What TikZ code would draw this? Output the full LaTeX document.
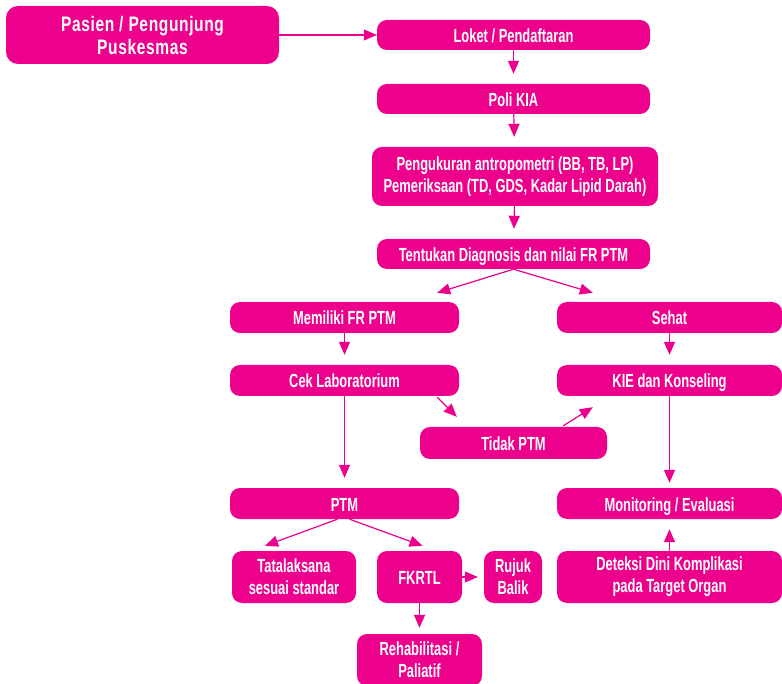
\documentclass[tikz,border=0pt]{standalone}
\usepackage{fontspec}
\setmainfont[FakeStretch=0.68,BoldFont={Liberation Sans Bold}]{Liberation Sans Bold}
\newfontfamily\titlefont[FakeStretch=0.74,LetterSpace=3]{Liberation Sans Bold}
\usetikzlibrary{arrows.meta,calc}
\definecolor{mag}{HTML}{EC008C}
\tikzset{
  box/.style={fill=mag, draw=none, rounded corners=10pt, text=white, align=center,
    inner sep=0pt, font=\fontsize{19}{22}\selectfont},
  one/.style={box, text height=15pt, text depth=0pt},
  arr/.style={draw=mag, line width=1.2pt, -{Triangle[length=13pt,width=11pt]}},
}
\begin{document}
\begin{tikzpicture}[x=1pt,y=-1pt]
\useasboundingbox (0,0) rectangle (782,684);
% boxes: at center, width, height
\node[box, rounded corners=12pt, minimum width=273pt, minimum height=58pt, font=\titlefont\fontsize{21}{23}\selectfont] (pas) at (142.5,35) {Pasien / Pengunjung\\Puskesmas};
\node[one, minimum width=273pt, minimum height=30pt] (lok) at (513.5,35) {Loket / Pendaftaran};
\node[one, minimum width=273pt, minimum height=30pt] (poli) at (513.5,99) {Poli KIA};
\node[box, minimum width=286pt, minimum height=59pt] (ukur) at (515,176.5) {Pengukuran antropometri (BB, TB, LP)\\Pemeriksaan (TD, GDS, Kadar Lipid Darah)};
\node[one, minimum width=273pt, minimum height=30pt] (ten) at (513.5,254) {Tentukan Diagnosis dan nilai FR PTM};
\node[one, minimum width=229pt, minimum height=31pt] (mem) at (344.5,317.5) {Memiliki FR PTM};
\node[one, minimum width=225pt, minimum height=31pt] (seh) at (669.5,317.5) {Sehat};
\node[one, minimum width=229pt, minimum height=31pt] (cek) at (344.5,380.5) {Cek Laboratorium};
\node[one, minimum width=225pt, minimum height=31pt] (kie) at (669.5,380.5) {KIE dan Konseling};
\node[one, minimum width=187pt, minimum height=32pt] (tid) at (513.5,443) {Tidak PTM};
\node[one, minimum width=229pt, minimum height=31pt] (ptm) at (344.5,503.5) {PTM};
\node[one, minimum width=225pt, minimum height=31pt] (mon) at (669.5,503.5) {Monitoring / Evaluasi};
\node[box, minimum width=124pt, minimum height=52pt] (tata) at (294,577) {Tatalaksana\\sesuai standar};
\node[one, minimum width=85pt, minimum height=52pt] (fk) at (419.5,577) {FKRTL};
\node[box, minimum width=58pt, minimum height=52pt] (ruj) at (513,577) {Rujuk\\Balik};
\node[box, minimum width=225pt, minimum height=52pt] (det) at (669.5,577) {Deteksi Dini Komplikasi\\pada Target Organ};
\node[box, minimum width=125pt, minimum height=52pt] (reh) at (419.5,660) {Rehabilitasi /\\Paliatif};
% connectors
\draw[arr] (pas.east) -- (lok.west);
\draw[arr, shorten >=10pt] (lok) -- (poli);
\draw[arr, shorten >=10pt] (poli) -- (ukur);
\draw[arr, shorten >=10pt] (ukur) -- (ten);
\draw[arr] (ten.south) -- ($(mem.north east)+(-22,-9)$);
\draw[arr] (ten.south) -- ($(seh.north west)+(36,-9)$);
\draw[arr, shorten >=10pt] (mem) -- (cek);
\draw[arr, shorten >=10pt] (seh) -- (kie);
\draw[arr] ($(cek.south east)+(-22,1)$) -- ($(tid.north west)+(37,-10)$);
\draw[arr] ($(tid.north east)+(-44,-1)$) -- ($(kie.south west)+(36,11)$);
\draw[arr, shorten >=10pt] (cek) -- (ptm);
\draw[arr, shorten >=5pt] (kie) -- (mon);
\draw[arr, shorten >=10pt] (det) -- (mon);
\draw[arr] ($(ptm.south)+(-7,0)$) -- ($(tata.north)+(-29,-5)$);
\draw[arr] ($(ptm.south)+(5,0)$) -- ($(fk.north)+(3,-5)$);
\draw[arr, shorten >=6pt] (fk) -- (ruj);
\draw[arr, shorten >=6pt] (fk) -- (reh);
\end{tikzpicture}
\end{document}
